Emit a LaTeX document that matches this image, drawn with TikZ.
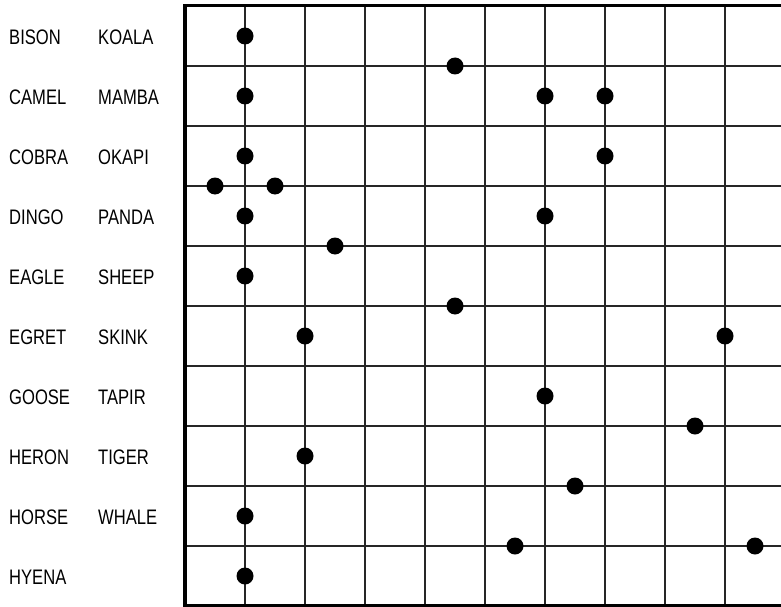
\documentclass[tikz,border=0pt]{standalone}
\usepackage{fontspec}
\setmainfont{Liberation Sans}[FakeStretch=0.79]
\begin{document}
\begin{tikzpicture}[x=1pt,y=-1pt,
  lab/.style={anchor=base west,inner sep=0pt,font=\fontsize{21}{25}\selectfont},
  dot/.style={circle,fill=black,inner sep=0pt,minimum size=17pt},
  gridline/.style={line width=1.2pt,black!85},
  frame/.style={line width=3pt,black}]
\useasboundingbox (0,0) rectangle (781,607);
% grid
\foreach \j in {1,...,9} \draw[gridline] (185,6+60*\j) -- (781,6+60*\j);
\foreach \k in {1,...,9} \draw[gridline] (185+60*\k,6) -- (185+60*\k,605);
\draw[frame] (781,6) -- (185,6) -- (185,605) -- (781,605);
\draw[line width=4pt] (185,4.5) -- (185,606.5);
% labels
\foreach \n/\t [count=\i from 0] in {l0/BISON,l1/CAMEL,l2/COBRA,l3/DINGO,l4/EAGLE,l5/EGRET,l6/GOOSE,l7/HERON,l8/HORSE,l9/HYENA}
  \node[lab] (\n) at (9,36+60*\i+8.5) {\t};
\foreach \n/\t [count=\i from 0] in {r0/KOALA,r1/MAMBA,r2/OKAPI,r3/PANDA,r4/SHEEP,r5/SKINK,r6/TAPIR,r7/TIGER,r8/WHALE}
  \node[lab] (\n) at (98,36+60*\i+8.5) {\t};
% dots
\foreach \x/\y [count=\i] in {245/36,455/66,245/96,545/96,605/96,245/156,605/156,215/186,275/186,245/216,545/216,335/246,245/276,455/306,305/336,725/336,545/396,695/426,305/456,575/486,245/516,515/546,755/546,245/576}
  \node[dot] (d\i) at (\x,\y) {};
\end{tikzpicture}
\end{document}
